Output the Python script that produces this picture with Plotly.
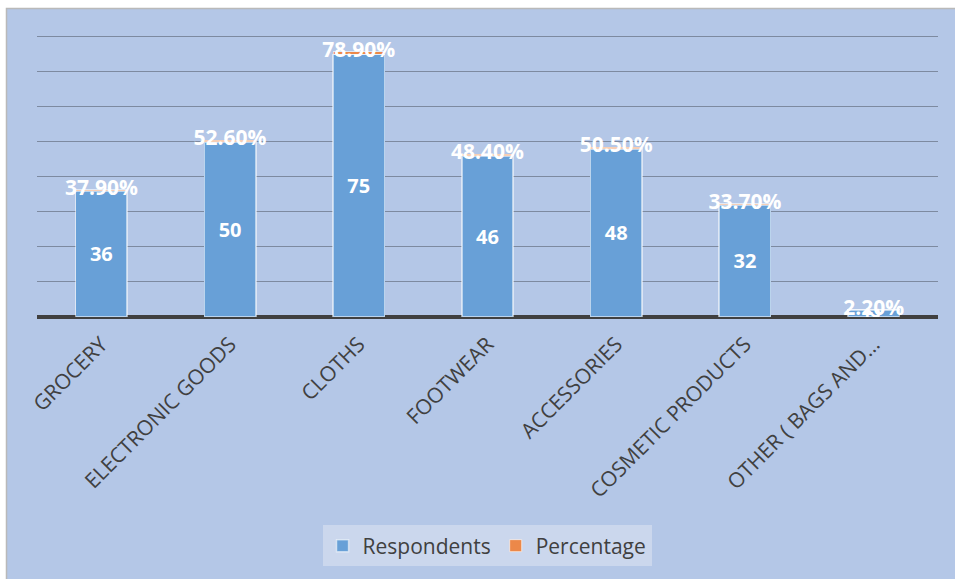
import plotly.graph_objects as go

# Survey results: products bought online
categories = ["GROCERY", "ELECTRONIC GOODS", "CLOTHS", "FOOTWEAR",
              "ACCESSORIES", "COSMETIC PRODUCTS", "OTHER ( BAGS AND…"]
respondents = [36, 50, 75, 46, 48, 32, 2]
percentage = [0.379, 0.526, 0.789, 0.484, 0.505, 0.337, 0.022]

BG = "#b4c7e7"
BLUE = "#68a0d7"
ORANGE = "#ec8849"
TEXT = "#404040"

# plot-area geometry in pixels (used to place the outer frame in paper units)
W, H = 955, 579
L, R, T, B = 37, 17, 35, 262
pw, ph = W - L - R, H - T - B
Y_TOP = 80.5


def px_x(p):
    return (p - L) / pw


def px_y(p):
    return (H - B - p) / ph


fig = go.Figure()

fig.add_trace(go.Bar(
    x=categories, y=respondents, name="Respondents",
    marker=dict(color=BLUE, line=dict(color="rgba(255,255,255,0.55)", width=1.5)),
    texttemplate="%{y}", textposition="inside", insidetextanchor="middle",
    constraintext="none",
    textfont=dict(family="Open Sans", size=20, color="white", weight="bold"),
    hoverinfo="skip",
))

fig.add_trace(go.Bar(
    x=categories, y=percentage, name="Percentage",
    marker=dict(color=ORANGE, line=dict(color="rgba(255,255,255,0.6)", width=1)),
    hoverinfo="skip",
))

# percentage labels sit on the top of each stack
fig.add_trace(go.Scatter(
    x=categories,
    y=[r + p for r, p in zip(respondents, percentage)],
    text=[f"{p:.2%}" for p in percentage],
    mode="text", textposition="middle center",
    textfont=dict(family="Open Sans", size=21, color="white", weight="bold"),
    showlegend=False, hoverinfo="skip",
))

fig.update_layout(
    width=W, height=H,
    margin=dict(l=L, r=R, t=T, b=B),
    paper_bgcolor="white",
    plot_bgcolor="rgba(0,0,0,0)",
    barmode="stack",
    bargap=0.6,
    uniformtext=dict(minsize=20, mode="show"),
    font=dict(family="Open Sans", color=TEXT),
    showlegend=True,
    legend=dict(
        orientation="h", xref="container", yref="container",
        x=0.51, y=0.057, xanchor="center", yanchor="middle",
        bgcolor="#cbd7ed", font=dict(size=21, color=TEXT),
        itemwidth=30, traceorder="normal",
    ),
    shapes=[dict(
        type="rect", xref="paper", yref="paper", layer="below",
        x0=px_x(6.5), x1=px_x(W + 2), y0=px_y(H + 2), y1=px_y(8.5),
        fillcolor=BG, line=dict(color="#b9b9b9", width=1.5),
    )],
)

fig.update_xaxes(
    tickangle=-45, tickfont=dict(size=21, color=TEXT),
    showgrid=False, ticks="", showline=False,
    ticklabelstandoff=10,
)
fig.update_yaxes(
    range=[0, Y_TOP], dtick=10, showticklabels=False,
    showgrid=True, gridcolor="#7d8aa0", gridwidth=1,
    zeroline=True, zerolinecolor="#404040", zerolinewidth=4,
    fixedrange=True,
)

fig.write_html("out.html")
